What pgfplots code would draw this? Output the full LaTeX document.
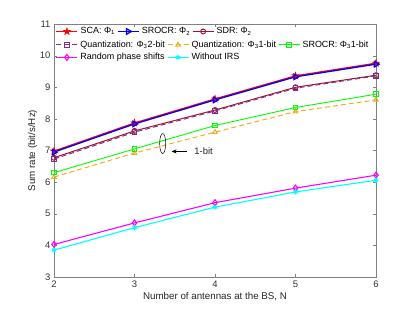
\documentclass[border=0pt]{standalone}
\usepackage{pgfplots}
\pgfplotsset{compat=1.18}
\usetikzlibrary{arrows.meta}
\usepackage{fontspec}
\setmainfont{Liberation Sans}
\definecolor{sdr}{rgb}{0.64,0.08,0.18}
\definecolor{qpur}{rgb}{0.49,0.18,0.56}
\definecolor{qorg}{rgb}{0.93,0.69,0.13}
\definecolor{axgray}{rgb}{0.5,0.5,0.5}
\definecolor{mag}{rgb}{1,0,1}
\definecolor{cya}{rgb}{0,1,1}
\definecolor{grn}{rgb}{0,1,0}
\pgfdeclareplotmark{pentagram}{%
  \pgfpathmoveto{\pgfqpointpolar{90}{\pgfplotmarksize}}%
  \pgfpathlineto{\pgfqpointpolar{126}{0.382\pgfplotmarksize}}%
  \pgfpathlineto{\pgfqpointpolar{162}{\pgfplotmarksize}}%
  \pgfpathlineto{\pgfqpointpolar{198}{0.382\pgfplotmarksize}}%
  \pgfpathlineto{\pgfqpointpolar{234}{\pgfplotmarksize}}%
  \pgfpathlineto{\pgfqpointpolar{270}{0.382\pgfplotmarksize}}%
  \pgfpathlineto{\pgfqpointpolar{306}{\pgfplotmarksize}}%
  \pgfpathlineto{\pgfqpointpolar{342}{0.382\pgfplotmarksize}}%
  \pgfpathlineto{\pgfqpointpolar{18}{\pgfplotmarksize}}%
  \pgfpathlineto{\pgfqpointpolar{54}{0.382\pgfplotmarksize}}%
  \pgfpathclose\pgfusepathqfillstroke}
\pgfplotsset{
  common/.style={
    scale only axis, width=322bp, height=253bp,
    xmin=2, xmax=6, ymin=3, ymax=11,
    legend cell align=left,
    legend image code/.code={\draw[mark repeat=2,mark phase=2] plot coordinates {(0bp,0bp) (10.5bp,0bp) (21bp,0bp)};},
  },
  lstyle/.style={draw=none, fill=none,
    font=\fontsize{9}{10}\selectfont, inner sep=0bp, row sep=1.5bp,
    nodes={inner xsep=1bp, inner ysep=1bp, text height=7bp, text depth=2bp},
    /tikz/every odd column/.append style={column sep=1.5bp},
    /tikz/every even column/.append style={column sep=1bp}},
  sca/.style={red, line width=1.3pt, mark=pentagram, mark options={solid, fill=red, mark size=3.6pt, line width=0.6pt}},
  srocr/.style={blue, line width=1.3pt, mark=triangle, mark options={solid, rotate=-90, mark size=3.2pt}},
  sdrs/.style={sdr, line width=1pt, mark=o, mark options={solid, mark size=2.5pt}},
}
\begin{document}
\begin{tikzpicture}
\useasboundingbox (-54bp,-35bp) rectangle (361bp,277bp);
\begin{axis}[
  common,
  xtick={2,3,4,5,6}, ytick={3,4,...,11},
  tick align=inside, major tick length=3bp,
  axis line style={axgray}, tick style={axgray},
  every tick label/.append style={font=\fontsize{9.5}{10}\selectfont, text=black!80},
  /pgf/number format/assume math mode=true,
  xlabel={Number of antennas at the BS, N},
  ylabel={Sum rate (bit/s/Hz)},
  label style={font=\fontsize{9.8}{11}\selectfont, text=black!85},
  xlabel style={yshift=2bp},
  ylabel style={yshift=-4bp},
  legend columns=3,
  legend style={at={(0.005,0.94)}, anchor=north west, lstyle},
]
\addplot[sca, forget plot] coordinates {(2,6.98) (3,7.87) (4,8.63) (5,9.36) (6,9.76)};
\addplot[srocr, forget plot] coordinates {(2,6.95) (3,7.84) (4,8.60) (5,9.33) (6,9.73)};
\addplot[sdrs, forget plot] coordinates {(2,6.77) (3,7.62) (4,8.28) (5,9.00) (6,9.38)};
\addplot[qpur, line width=1pt, dashed, dash pattern=on 5bp off 3bp, mark=square, mark options={solid, mark size=2.3pt}] coordinates {(2,6.73) (3,7.58) (4,8.25) (5,8.97) (6,9.36)};
\addlegendentry{Quantization: Φ\textsubscript{3}2-bit}
\addplot[qorg, line width=1pt, dashed, dash pattern=on 5bp off 3bp, mark=triangle, mark options={solid, mark size=2.6pt}] coordinates {(2,6.16) (3,6.92) (4,7.58) (5,8.23) (6,8.60)};
\addlegendentry{Quantization: Φ\textsubscript{3}1-bit}
\addplot[grn, line width=0.9pt, mark=square, mark options={solid, mark size=2.3pt}] coordinates {(2,6.30) (3,7.05) (4,7.79) (5,8.36) (6,8.78)};
\addlegendentry{SROCR: Φ\textsubscript{3}1-bit}
\addplot[mag, line width=1.1pt, mark=diamond, mark options={solid, mark size=3pt}] coordinates {(2,4.03) (3,4.71) (4,5.35) (5,5.81) (6,6.22)};
\addlegendentry{Random phase shifts}
\addplot[cya, line width=1.1pt, mark=asterisk, mark options={solid, mark size=2.6pt}] coordinates {(2,3.85) (3,4.56) (4,5.21) (5,5.69) (6,6.06)};
\addlegendentry{Without IRS}
\draw[black, line width=0.5pt] (axis cs:3.35,7.22) ellipse [x radius=3bp, y radius=10bp];
\draw[black, line width=0.5pt, -{Stealth[length=5bp,width=4bp]}] (axis cs:3.65,6.97) -- (axis cs:3.46,6.97);
\node[anchor=west, font=\fontsize{9.5}{10}\selectfont, text=black!85] at (axis cs:3.70,6.97) {1-bit};
\end{axis}
\begin{axis}[
  common, hide axis,
  legend columns=3,
  legend style={at={(0.005,0.993)}, anchor=north west, lstyle},
]
\addlegendimage{sca}
\addlegendentry{SCA: Φ\textsubscript{1}}
\addlegendimage{srocr}
\addlegendentry{SROCR: Φ\textsubscript{2}}
\addlegendimage{sdrs}
\addlegendentry{SDR: Φ\textsubscript{2}}
\end{axis}
\end{tikzpicture}
\end{document}
